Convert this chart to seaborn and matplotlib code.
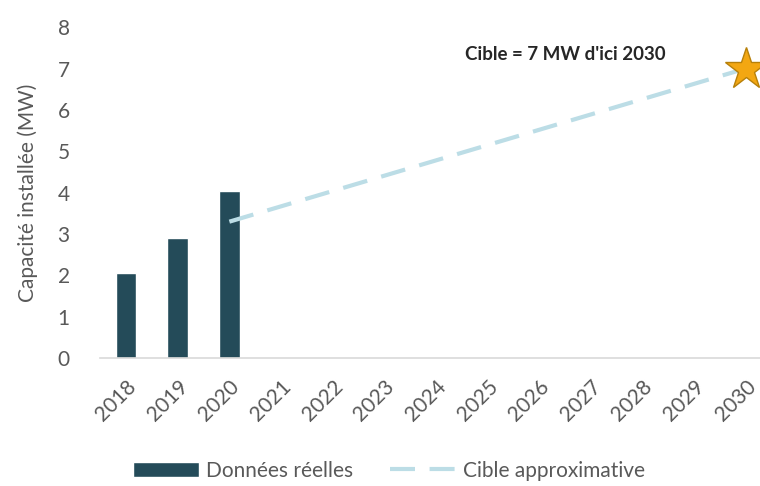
"""
Capacité installée : données réelles 2018-2020 et cible approximative 2030
"""

import matplotlib
matplotlib.use('Agg')
import matplotlib.pyplot as plt
import numpy as np
import pandas as pd
import seaborn as sns

# Données
annees = ['2018', '2019', '2020', '2021', '2022', '2023', '2024',
          '2025', '2026', '2027', '2028', '2029', '2030']
capacite_reelle = [2.05, 2.9, 4.05] + [np.nan] * 10
cible_annees = ['2020', '2030']
cible_valeurs = [3.3, 7.0]
cible_texte = "Cible = 7 MW d'ici 2030"

couleur_barre = '#244b59'
couleur_cible = '#bcdde6'
couleur_texte = '#595959'

sns.set_theme(style='white')
plt.rcParams['font.family'] = ['Lato', 'DejaVu Sans']

fig = plt.figure(figsize=(7.6, 4.86), dpi=100)
ax = fig.add_axes([0.132, 0.263, 0.883, 0.681])

df = pd.DataFrame({'annee': annees, 'capacite': capacite_reelle})
sns.barplot(data=df, x='annee', y='capacite', order=annees, color=couleur_barre,
            width=0.4, saturation=1, ax=ax, label='Données réelles')

# ligne de la cible (positions catégorielles)
pos_cible = [annees.index(a) for a in cible_annees]
sns.lineplot(x=pos_cible, y=cible_valeurs, color=couleur_cible, linewidth=3,
             ax=ax, label='Cible approximative')
ax.lines[-1].set_dashes([6, 3.5])
ax.plot(pos_cible[-1], cible_valeurs[-1], marker='*', markersize=32,
        color='#f3a712', markeredgecolor='#b7800a', markeredgewidth=1,
        clip_on=False, zorder=5)
ax.text(8.5, 7.35, cible_texte, ha='center', va='center', fontsize=13.5,
        fontweight='bold', color='#262626')

ax.set_xlim(-0.5, 12.5)
ax.set_ylim(0, 8)
ax.set_yticks(range(0, 9))
ax.set_xlabel('')
ax.set_ylabel('Capacité installée (MW)', fontsize=15, color=couleur_texte,
              labelpad=14)
ax.tick_params(axis='both', labelsize=15, colors=couleur_texte, length=0)
ax.tick_params(axis='y', pad=22)
ax.tick_params(axis='x', pad=13)
plt.setp(ax.get_xticklabels(), rotation=45, ha='right', rotation_mode='anchor')
for s in ['top', 'right', 'left']:
    ax.spines[s].set_visible(False)
ax.spines['bottom'].set_color('#d9d9d9')
ax.spines['bottom'].set_linewidth(1.2)

# barres d'abord dans la légende
handles, labels = ax.get_legend_handles_labels()
ordre = [labels.index('Données réelles'), labels.index('Cible approximative')]
ax.legend([handles[i] for i in ordre], [labels[i] for i in ordre],
          loc='center', bbox_to_anchor=(0.43, -0.34), ncol=2, frameon=False,
          fontsize=15, labelcolor=couleur_texte, handlelength=3.2,
          columnspacing=1.8, handletextpad=0.3)

plt.savefig('out.png', dpi=100)
plt.close()
